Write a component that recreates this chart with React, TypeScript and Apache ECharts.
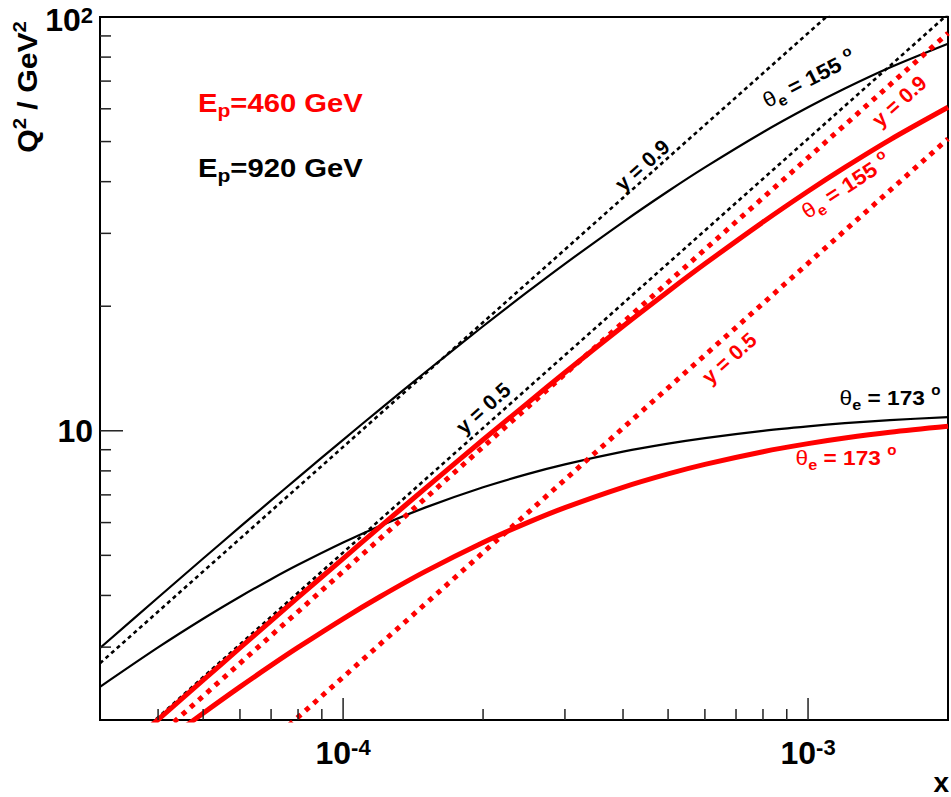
import React, { useEffect, useRef } from 'react';
import * as echarts from 'echarts';

const FONT = 'Liberation Sans';
const X_MIN = 3e-5;
const X_MAX = 2e-3;
const Y_MIN = 2;
const Y_MAX = 100;

// x grid for the theta_e curves
const xGrid = [3e-5, 4e-5, 5e-5, 6e-5, 7e-5, 8e-5, 1e-4, 1.2e-4, 1.5e-4, 2e-4, 2.5e-4, 3e-4, 4e-4, 5e-4, 6e-4, 8e-4, 1e-3, 1.2e-3, 1.5e-3, 2e-3];
const theta155Ep920 = [2.986, 3.955, 4.912, 5.856, 6.787, 7.707, 9.511, 11.27, 13.83, 17.89, 21.71, 25.32, 31.95, 37.92, 43.31, 52.67, 60.51, 67.18, 75.51, 86.19];
const theta173Ep920 = [2.405, 2.995, 3.513, 3.971, 4.379, 4.744, 5.371, 5.89, 6.521, 7.302, 7.868, 8.296, 8.902, 9.31, 9.604, 9.997, 10.25, 10.43, 10.61, 10.79];
const theta155Ep460 = [1.508, 2.004, 2.497, 2.986, 3.473, 3.955, 4.912, 5.856, 7.249, 9.511, 11.7, 13.83, 17.89, 21.71, 25.32, 31.95, 37.92, 43.31, 50.49, 60.51];
const theta173Ep460 = [1.344, 1.724, 2.077, 2.405, 2.71, 2.995, 3.513, 3.971, 4.567, 5.371, 6.006, 6.521, 7.302, 7.868, 8.296, 8.902, 9.31, 9.604, 9.916, 10.25];

// constant-y lines (straight in log-log), end points
const lineX = [3e-5, 2e-3];
const y09Ep920 = [2.742, 182.8];
const y05Ep920 = [1.523, 101.6];
const y09Ep460 = [1.371, 91.41];
const y05Ep460 = [0.7618, 50.78];

// tick marks
const xMajorTicks = [1e-4, 1e-3];
const xMinorTicks = [4e-5, 5e-5, 6e-5, 7e-5, 8e-5, 9e-5, 2e-4, 3e-4, 4e-4, 5e-4, 6e-4, 7e-4, 8e-4, 9e-4];
const yMajorTicks = [10];
const yMinorTicks = [3, 4, 5, 6, 7, 8, 9, 20, 30, 40, 50, 60, 70, 80, 90];

const toPairs = (xs: number[], ys: number[]) => xs.map((x, i) => [x, ys[i]]);

function isDecade(v: number) {
  const l = Math.log10(v);
  return Math.abs(l - Math.round(l)) < 1e-6;
}

function thetaRich(color: string, fs: number) {
  return {
    t: { fontSize: fs, fontFamily: FONT, fontWeight: 'normal', fill: color, lineHeight: fs + 8, verticalAlign: 'middle' },
    n: { fontSize: fs, fontFamily: FONT, fontWeight: 'bold', fill: color, lineHeight: fs + 8, verticalAlign: 'middle' },
    e: { fontSize: Math.round(fs * 0.72), fontFamily: FONT, fontWeight: 'bold', fill: color, lineHeight: Math.round(fs * 0.72), verticalAlign: 'bottom' },
    o: { fontSize: Math.round(fs * 0.68), fontFamily: FONT, fontWeight: 'bold', fill: color, lineHeight: Math.round(fs * 0.68), verticalAlign: 'top' },
  };
}

function textEl(text: string, x: number, y: number, rotDeg: number, color: string, fs: number, scaleX = 1, align = 'center') {
  return {
    type: 'text',
    x,
    y,
    rotation: (rotDeg * Math.PI) / 180,
    scaleX,
    silent: true,
    z: 50,
    style: {
      text,
      rich: thetaRich(color, fs),
      fill: color,
      font: `bold ${fs}px ${FONT}`,
      align,
      verticalAlign: 'middle',
    },
  };
}

export default function App() {
  const ref = useRef<HTMLDivElement>(null);

  useEffect(() => {
    const chart = echarts.init(ref.current!, null, { renderer: 'svg' });

    const tickData: number[][] = [
      ...xMajorTicks.map((v) => [v, Y_MIN, 0, 22]),
      ...xMinorTicks.map((v) => [v, Y_MIN, 0, 11]),
      ...yMajorTicks.map((v) => [X_MIN, v, 1, 23]),
      ...yMinorTicks.map((v) => [X_MIN, v, 1, 11]),
    ];

    const black = '#000000';
    const red = '#ff0000';

    const option: any = {
      animation: false,
      backgroundColor: '#ffffff',
      grid: { left: 100, right: 1, top: 12, bottom: 77, show: true, borderColor: '#000', borderWidth: 2, backgroundColor: 'transparent' },
      xAxis: {
        type: 'log',
        logBase: 10,
        min: X_MIN,
        max: X_MAX,
        axisLine: { show: true, lineStyle: { color: '#000', width: 2 } },
        axisTick: { show: false },
        splitLine: { show: false },
        axisLabel: {
          margin: 16,
          formatter: (v: number) => (isDecade(v) ? `{b|10}{s|${Math.round(Math.log10(v))}}` : ''),
          rich: {
            b: { fontSize: 32, fontWeight: 'bold', fontFamily: FONT, color: '#000', lineHeight: 34, verticalAlign: 'middle' },
            s: { fontSize: 22, fontWeight: 'bold', fontFamily: FONT, color: '#000', lineHeight: 22, verticalAlign: 'top' },
          },
        },
      },
      yAxis: {
        type: 'log',
        logBase: 10,
        min: Y_MIN,
        max: Y_MAX,
        axisLine: { show: true, lineStyle: { color: '#000', width: 2 } },
        axisTick: { show: false },
        splitLine: { show: false },
        axisLabel: {
          margin: 7,
          formatter: (v: number) => {
            if (!isDecade(v)) return '';
            const e = Math.round(Math.log10(v));
            if (e === 1) return '{b|10}';
            return `{c|10}{d|${e}}`;
          },
          rich: {
            b: { fontSize: 32, fontWeight: 'bold', fontFamily: FONT, color: '#000' },
            c: { fontSize: 32, fontWeight: 'bold', fontFamily: FONT, color: '#000', lineHeight: 34, padding: [4, 0, 0, 0], verticalAlign: 'top' },
            d: { fontSize: 22, fontWeight: 'bold', fontFamily: FONT, color: '#000', lineHeight: 22, padding: [4, 0, 0, 0], verticalAlign: 'top' },
          },
        },
      },
      series: [
        { type: 'line', name: 'theta155_920', data: toPairs(xGrid, theta155Ep920), symbol: 'none', smooth: 0.3, lineStyle: { color: black, width: 2.2 }, z: 2 },
        { type: 'line', name: 'theta173_920', data: toPairs(xGrid, theta173Ep920), symbol: 'none', smooth: 0.3, lineStyle: { color: black, width: 2.2 }, z: 2 },
        { type: 'line', name: 'y09_920', data: toPairs(lineX, y09Ep920), symbol: 'none', lineStyle: { color: black, width: 2.6, type: [4, 3.5] }, z: 2 },
        { type: 'line', name: 'y05_920', data: toPairs(lineX, y05Ep920), symbol: 'none', lineStyle: { color: black, width: 2.6, type: [4, 3.5] }, z: 2 },
        { type: 'line', name: 'theta155_460', data: toPairs(xGrid, theta155Ep460), symbol: 'none', smooth: 0.3, lineStyle: { color: red, width: 5 }, z: 3 },
        { type: 'line', name: 'theta173_460', data: toPairs(xGrid, theta173Ep460), symbol: 'none', smooth: 0.3, lineStyle: { color: red, width: 5 }, z: 3 },
        { type: 'line', name: 'y09_460', data: toPairs(lineX, y09Ep460), symbol: 'none', lineStyle: { color: red, width: 5, type: [5, 6] }, z: 3 },
        { type: 'line', name: 'y05_460', data: toPairs(lineX, y05Ep460), symbol: 'none', lineStyle: { color: red, width: 5, type: [5, 6] }, z: 3 },
        {
          type: 'custom',
          name: 'ticks',
          silent: true,
          z: 5,
          data: tickData,
          renderItem: (_params: any, api: any) => {
            const p = api.coord([api.value(0), api.value(1)]);
            const dir = api.value(2);
            const len = api.value(3);
            const shape = dir === 0
              ? { x1: p[0], y1: p[1], x2: p[0], y2: p[1] - len }
              : { x1: p[0], y1: p[1], x2: p[0] + len, y2: p[1] };
            return { type: 'line', shape, style: { stroke: '#222', lineWidth: 1.5 } };
          },
        },
      ],
      graphic: [
        textEl('{n|Q}{o|2}{n| / GeV}{o|2}', 28, 87, 90, black, 27, 1.12),
        textEl('x', 949, 782, 0, black, 28, 1, 'right'),
        textEl('{n|E}{e|p}{n|=460 GeV}', 198, 103, 0, red, 25, 1.17, 'left'),
        textEl('{n|E}{e|p}{n|=920 GeV}', 198, 168, 0, black, 25, 1.17, 'left'),
        textEl('{t|θ}{e|e}{n| = 155 }{o|o}', 809, 79, 27, black, 21, 1.08),
        textEl('{n|y = 0.9}', 642, 165, 41.8, black, 21),
        textEl('{n|y = 0.5}', 483, 408, 41.8, black, 21),
        textEl('{n|y = 0.9}', 899, 101, 41.8, red, 21),
        textEl('{t|θ}{e|e}{n| = 155 }{o|o}', 846, 186, 33, red, 21, 1.08),
        textEl('{n|y = 0.5}', 729, 358, 41.8, red, 21),
        textEl('{t|θ}{e|e}{n| = 173 }{o|o}', 890, 398, 0, black, 21, 1.08),
        textEl('{t|θ}{e|e}{n| = 173 }{o|o}', 846, 458, 0, red, 21, 1.08),
      ],
    };

    chart.setOption(option);
    return () => chart.dispose();
  }, []);

  return <div ref={ref} style={{ position: 'fixed', left: 0, top: 0, width: 951, height: 797, background: '#fff' }} />;
}
